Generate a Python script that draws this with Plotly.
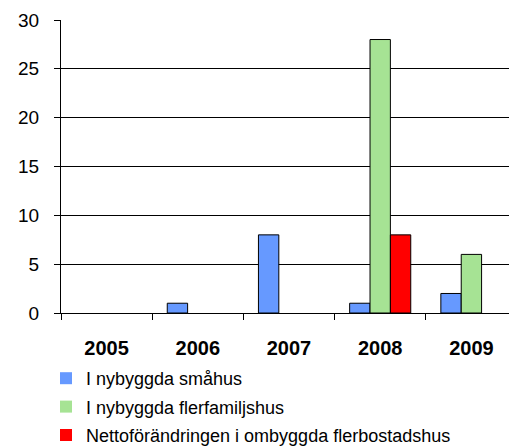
import plotly.graph_objects as go

years = ["2005", "2006", "2007", "2008", "2009"]
smahus = [0, 1, 8, 1, 2]
flerfamiljshus = [0, 0, 0, 28, 6]
ombyggda = [0, 0, 0, 8, 0]

names = ["I nybyggda småhus", "I nybyggda flerfamiljshus", "Nettoförändringen i ombyggda flerbostadshus"]
colors = ["#6699FF", "#A6E394", "#FF0000"]
series = [smahus, flerfamiljshus, ombyggda]

FONT = "Liberation Sans, Arial, sans-serif"

fig = go.Figure()
for i, (n, c, v) in enumerate(zip(names, colors, series)):
    line_colors = ["#000000" if val else "rgba(0,0,0,0)" for val in v]
    fig.add_trace(go.Bar(x=years, y=v, name=n,
                         marker=dict(color=c, line=dict(color=line_colors, width=1)),
                         legendgroup=f"g{i}"))

# page body has an 8px margin, so the figure is drawn from (8, 8)
W, H = 509, 438
L, T, R, B = 53, 12, 0, 133
PW, PH = W - L - R, H - T - B
fig.update_layout(
    width=W, height=H,
    margin=dict(l=L, r=R, t=T, b=B, autoexpand=False),
    paper_bgcolor="white", plot_bgcolor="white",
    font=dict(family=FONT, color="black"),
    barmode="group", bargap=0.33, bargroupgap=0,
    showlegend=True,
    legend=dict(x=(38 - L) / PW, y=(H - B - 352) / PH,
                xanchor="left", yanchor="top", orientation="v",
                font=dict(size=18), tracegroupgap=2, bgcolor="rgba(0,0,0,0)"),
)
fig.update_xaxes(type="category", tickson="boundaries", ticks="outside", ticklen=6, tickcolor="#000",
                 showline=True, linecolor="#000", linewidth=1,
                 tickfont=dict(size=20, family=FONT, weight="bold"),
                 ticklabelstandoff=17, showgrid=False)
fig.update_yaxes(range=[0, 30], dtick=5, ticks="outside", ticklen=6, tickcolor="#000",
                 showline=True, linecolor="#000", linewidth=1, mirror=False,
                 showgrid=True, gridcolor="#000", gridwidth=1, zeroline=False,
                 tickfont=dict(size=19), ticklabelstandoff=11)

fig.write_html("out.html")
